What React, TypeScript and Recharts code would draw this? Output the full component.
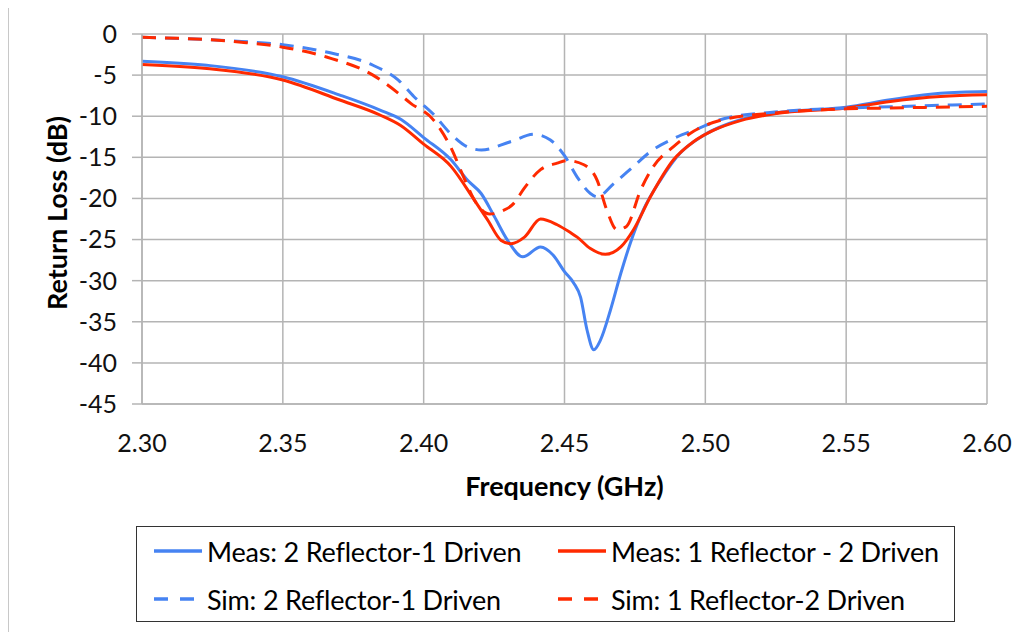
import React from 'react';
import { LineChart, Line, XAxis, YAxis, CartesianGrid, Legend, Label } from 'recharts';

const freqTicks = [2.3, 2.35, 2.4, 2.45, 2.5, 2.55, 2.6];
const dbTicks = [0, -5, -10, -15, -20, -25, -30, -35, -40, -45];

const measBlueFreq = [2.3, 2.323, 2.35, 2.37, 2.3845, 2.392, 2.4, 2.4097, 2.4156, 2.4204, 2.4251, 2.4298, 2.4352, 2.4415, 2.446, 2.45, 2.4533, 2.4557, 2.458, 2.4604, 2.4628, 2.4663, 2.47, 2.4733, 2.478, 2.484, 2.491, 2.4995, 2.5128, 2.5246, 2.55, 2.5657, 2.5835, 2.6];
const measBlueDb = [-3.3, -3.8, -5.2, -7.4, -9.25, -10.4, -12.6, -15.3, -17.8, -19.4, -22.2, -25.1, -27.1, -25.9, -26.9, -28.9, -30.3, -32.0, -36.0, -38.4, -37.2, -33.6, -29.1, -25.5, -21.4, -17.8, -14.5, -12.3, -10.4, -9.6, -8.9, -8.0, -7.2, -7.0];

const measRedFreq = [2.3, 2.323, 2.35, 2.37, 2.3845, 2.3917, 2.4, 2.4097, 2.418, 2.4227, 2.4275, 2.431, 2.4358, 2.4415, 2.4474, 2.4523, 2.4545, 2.4592, 2.4645, 2.47, 2.4745, 2.4805, 2.4887, 2.4958, 2.503, 2.5128, 2.5246, 2.55, 2.5657, 2.5835, 2.6];
const measRedDb = [-3.7, -4.2, -5.6, -8.0, -9.85, -11.1, -13.4, -16.1, -20.2, -22.6, -25.1, -25.5, -24.7, -22.5, -23.2, -24.2, -24.7, -26.1, -26.8, -25.9, -23.8, -19.8, -15.3, -13.1, -11.7, -10.5, -9.7, -9.0, -8.2, -7.6, -7.4];

const simBlueFreq = [2.3, 2.3353, 2.35, 2.3655, 2.382, 2.391, 2.3965, 2.4036, 2.4095, 2.4154, 2.4205, 2.4308, 2.4392, 2.445, 2.45, 2.4545, 2.4592, 2.4616, 2.4675, 2.4745, 2.4805, 2.4888, 2.4975, 2.5065, 2.5246, 2.55, 2.566, 2.6];
const simBlueDb = [-0.4, -0.9, -1.3, -2.2, -3.8, -5.6, -7.6, -9.8, -12.1, -13.7, -14.1, -13.1, -12.2, -12.9, -14.8, -17.4, -19.4, -19.8, -18.2, -16.1, -14.3, -12.7, -11.5, -10.3, -9.5, -9.0, -8.85, -8.5];

const simRedFreq = [2.3, 2.3353, 2.35, 2.3655, 2.382, 2.391, 2.3953, 2.4036, 2.4095, 2.4142, 2.418, 2.4235, 2.4274, 2.432, 2.4356, 2.4415, 2.4474, 2.451, 2.4569, 2.4616, 2.465, 2.4686, 2.472, 2.477, 2.4816, 2.4887, 2.4946, 2.5065, 2.5246, 2.55, 2.566, 2.6];
const simRedDb = [-0.4, -1.0, -1.6, -2.8, -5.0, -7.2, -8.4, -10.5, -13.7, -17.4, -20.2, -21.9, -21.6, -20.6, -18.8, -16.5, -15.7, -15.4, -15.9, -17.8, -21.4, -23.8, -23.4, -19.0, -16.1, -13.7, -12.1, -10.4, -9.6, -9.1, -9.0, -8.8];

const seriesNames = ['Meas: 2 Reflector-1 Driven', 'Meas: 1 Reflector - 2 Driven', 'Sim: 2 Reflector-1 Driven', 'Sim: 1 Reflector-2 Driven'];

const BLUE = '#4683F2';
const RED = '#FF2A00';
const GRID = '#B4B4B4';
const FONT = 'Lato, "Open Sans", sans-serif';

const zip = (f: number[], v: number[]) => f.map((x, i) => ({ f: x, v: v[i] }));

const measBlue = zip(measBlueFreq, measBlueDb);
const measRed = zip(measRedFreq, measRedDb);
const simBlue = zip(simBlueFreq, simBlueDb);
const simRed = zip(simRedFreq, simRedDb);

const legendItems = [
  { name: seriesNames[0], color: BLUE, dashed: false, left: 17, top: 24 },
  { name: seriesNames[1], color: RED, dashed: false, left: 421, top: 24 },
  { name: seriesNames[2], color: BLUE, dashed: true, left: 17, top: 72 },
  { name: seriesNames[3], color: RED, dashed: true, left: 421, top: 72 },
];

const LegendBox = () => (
  <div style={{ position: 'relative', width: 819, height: 96, border: '1.5px solid #333', boxSizing: 'border-box', background: '#fff', fontFamily: FONT }}>
    {legendItems.map((it) => (
      <div key={it.name} style={{ position: 'absolute', left: it.left, top: it.top - 17, height: 34, display: 'flex', alignItems: 'center', whiteSpace: 'nowrap' }}>
        <svg width={50} height={8} style={{ display: 'block' }}>
          <line x1={0} y1={4} x2={48} y2={4} stroke={it.color} strokeWidth={3.5} strokeDasharray={it.dashed ? '14 12' : undefined} />
        </svg>
        <span style={{ fontSize: 27, color: '#000', marginLeft: 3, letterSpacing: -0.2 }}>{it.name}</span>
      </div>
    ))}
  </div>
);

export default function App() {
  return (
    <div style={{ position: 'relative', width: 1013, height: 624, background: '#fff' }}>
      <div style={{ position: 'absolute', left: 0, top: -1, width: 1100, height: 700, borderTop: '1.5px solid #C8C8C8', borderLeft: '1.5px solid #C8C8C8', pointerEvents: 'none' }} />
      <LineChart width={1013} height={624} margin={{ top: 26, right: 34, left: 74, bottom: 198 }}>
        <CartesianGrid stroke={GRID} strokeWidth={1.5} />
        <XAxis
          type="number"
          dataKey="f"
          domain={[2.3, 2.6]}
          ticks={freqTicks}
          tickFormatter={(t: number) => t.toFixed(2)}
          allowDataOverflow
          axisLine={{ stroke: GRID, strokeWidth: 1.5 }}
          tickLine={false}
          tickSize={0}
          tickMargin={30}
          height={30}
          tick={{ fontSize: 25, fill: '#111', fontFamily: FONT }}
        >
          <Label
            content={(p: any) => {
              const vb = p.viewBox || { x: 134, y: 396, width: 845 };
              return (
                <text x={vb.x + vb.width / 2} y={vb.y + 92} textAnchor="middle" fontSize={27} fontWeight="bold" fontFamily={FONT} fill="#000">
                  Frequency (GHz)
                </text>
              );
            }}
          />
        </XAxis>
        <YAxis
          type="number"
          domain={[-45, 0]}
          ticks={dbTicks}
          allowDataOverflow
          width={60}
          axisLine={{ stroke: GRID, strokeWidth: 1.5 }}
          tickLine={{ stroke: GRID, strokeWidth: 1.5 }}
          tickSize={10}
          tickMargin={15}
          tick={{ fontSize: 25, fill: '#111', fontFamily: FONT }}
        >
          <Label
            content={() => (
              <text x={48} y={205} transform="rotate(-90, 48, 205)" textAnchor="middle" dominantBaseline="central" fontSize={27} fontWeight="bold" fontFamily={FONT} fill="#000">
                Return Loss (dB)
              </text>
            )}
          />
        </YAxis>
        <Line data={measBlue} dataKey="v" name={seriesNames[0]} type="monotone" stroke={BLUE} strokeWidth={3} dot={false} isAnimationActive={false} />
        <Line data={measRed} dataKey="v" name={seriesNames[1]} type="monotone" stroke={RED} strokeWidth={3} dot={false} isAnimationActive={false} />
        <Line data={simBlue} dataKey="v" name={seriesNames[2]} type="monotone" stroke={BLUE} strokeWidth={3} strokeDasharray="14 9" dot={false} isAnimationActive={false} />
        <Line data={simRed} dataKey="v" name={seriesNames[3]} type="monotone" stroke={RED} strokeWidth={3} strokeDasharray="14 9" dot={false} isAnimationActive={false} />
        <Legend
          layout="horizontal"
          verticalAlign="middle"
          align="center"
          content={() => <LegendBox />}
          wrapperStyle={{ position: 'absolute', left: 128, top: 518, width: 819, height: 96 }}
        />
      </LineChart>
    </div>
  );
}
